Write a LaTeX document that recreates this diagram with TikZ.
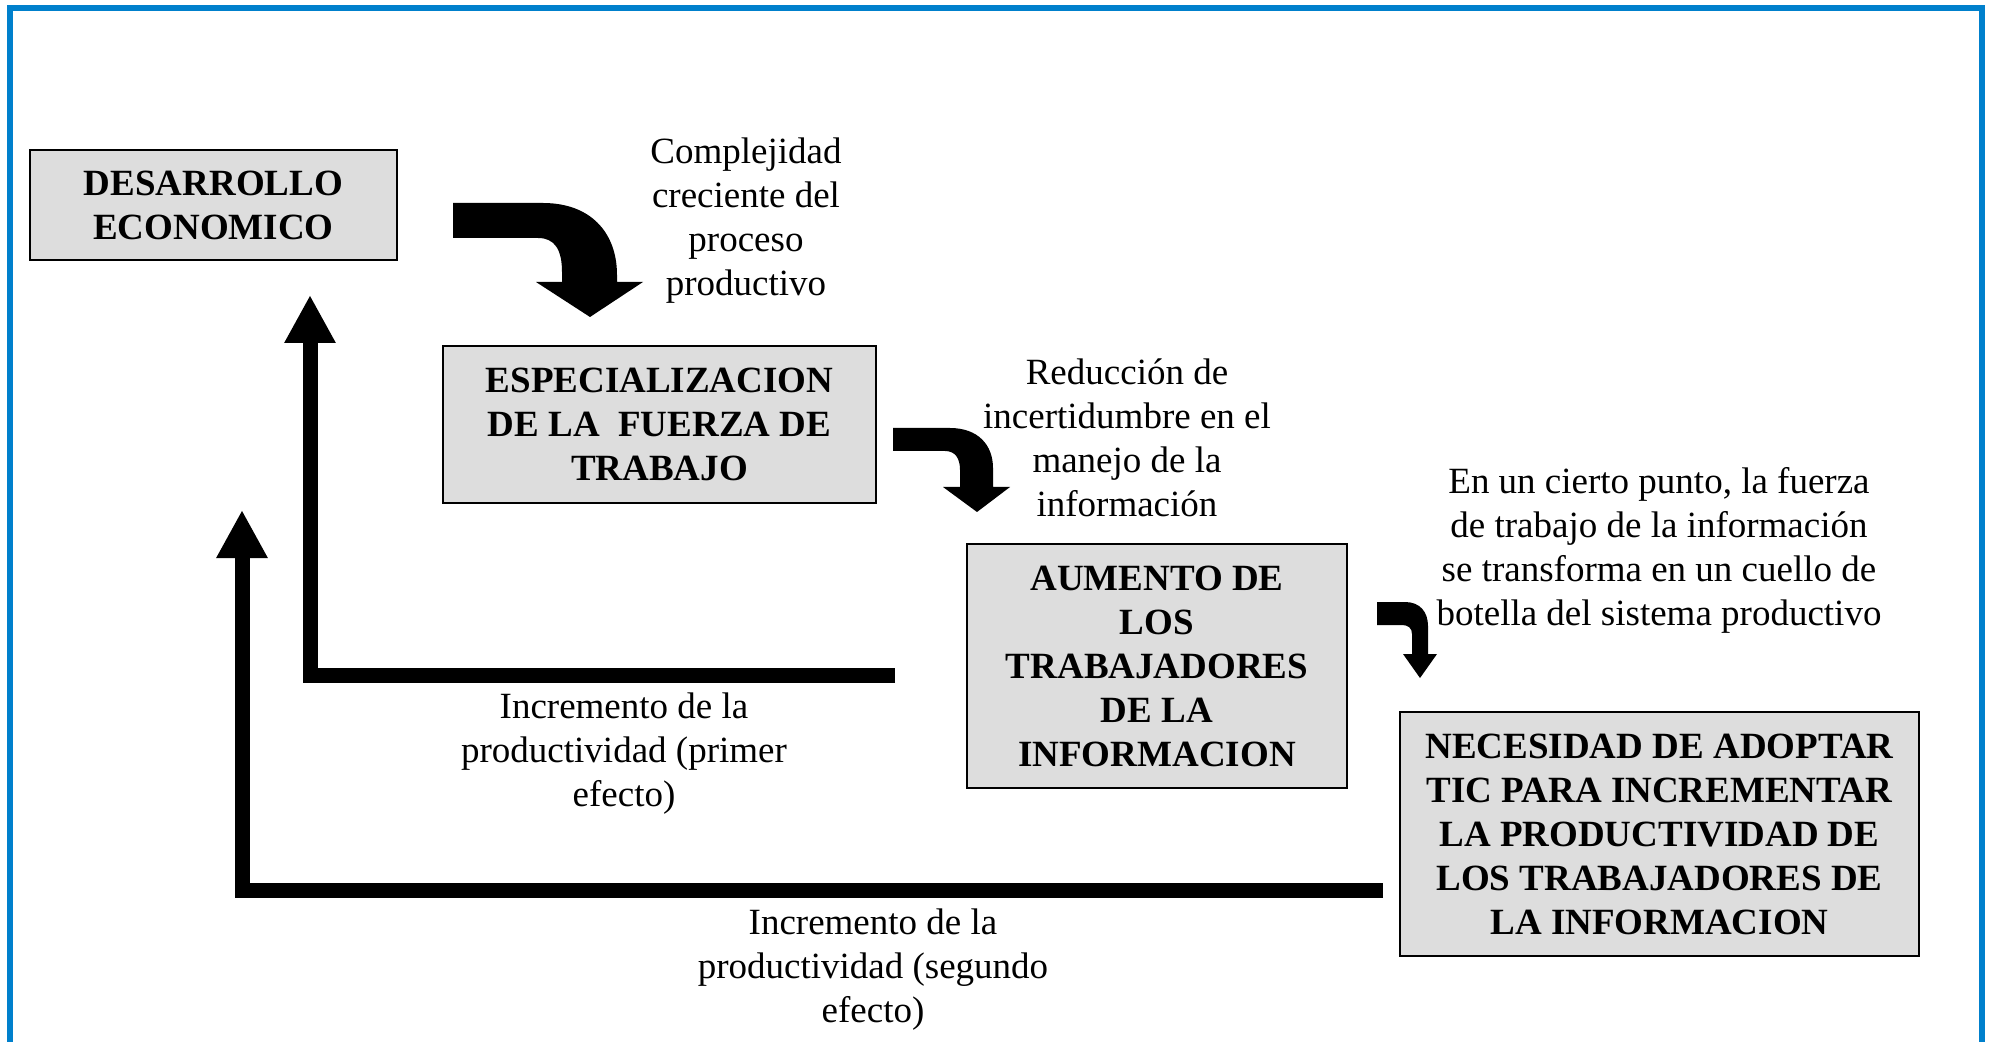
\documentclass[tikz,border=0pt]{standalone}
\usepackage{fontspec}
\setmainfont{Liberation Serif}
\usepackage{tikz}
\usetikzlibrary{arrows.meta, positioning}
\definecolor{frameblue}{RGB}{0,128,204}
\definecolor{boxgray}{RGB}{221,221,221}
\tikzstyle{block} = [rectangle, draw=black, line width=1pt, fill=boxgray, align=center, font=\fontsize{18.5}{22}\selectfont\bfseries]
\tikzstyle{note} = [align=center, font=\fontsize{18.5}{22}\selectfont]
\tikzstyle{feedback} = [line width=7.5pt, line join=miter, -{Triangle[width=24pt, length=24pt]}]
\tikzstyle{bendarrow} = [fill=black]

\begin{document}
\begin{tikzpicture}[x=0.5pt, y=-0.5pt]

    \useasboundingbox (0, 0) rectangle (1990, 1042);
    \draw [frameblue, line width=3pt] (10, 1042) -- (10, 8) -- (1982, 8) -- (1982, 1042);

    \node (desarrollo) [block, minimum width=183.5pt, minimum height=55pt] at (213.5, 205) {DESARROLLO\\ECONOMICO};
    \node (especial) [block, minimum width=216.5pt, minimum height=78.5pt] at (659.5, 424.5) {ESPECIALIZACION\\DE LA\ \ FUERZA DE\\TRABAJO};
    \node (aumento) [block, minimum width=190pt, minimum height=122pt] at (1157, 666) {AUMENTO DE\\LOS\\TRABAJADORES\\DE LA\\INFORMACION};
    \node (necesidad) [block, minimum width=259.5pt, minimum height=122pt] at (1659.5, 834) {NECESIDAD DE ADOPTAR\\TIC PARA INCREMENTAR\\LA PRODUCTIVIDAD DE\\LOS TRABAJADORES DE\\LA INFORMACION};

    \node (complejidad) [note] at (746, 221) {Complejidad\\creciente del\\proceso\\productivo};
    \node (reduccion) [note] at (1127, 438) {Reducción de\\incertidumbre en el\\manejo de la\\información};
    \node (cuello) [note] at (1659, 550.5) {En un cierto punto, la fuerza\\de trabajo de la información\\se transforma en un cuello de\\botella del sistema productivo};
    \node (primer) [note] at (624, 754) {Incremento de la\\productividad (primer\\efecto)};
    \node (segundo) [note] at (873, 970) {Incremento de la\\productividad (segundo\\efecto)};

    % curved arrows between the boxes
    \fill [bendarrow] (453, 203) -- (543, 203) .. controls (590, 203) and (617, 232) .. (617, 275)
        -- (617, 282) -- (643, 282) -- (590, 317) -- (536, 282) -- (562, 282) -- (562, 272)
        .. controls (562, 250) and (555, 238) .. (538, 238) -- (453, 238) -- cycle;
    \fill [bendarrow] (893, 428) -- (950, 428) .. controls (978, 428) and (993, 445) .. (993, 468)
        -- (993, 487) -- (1010, 487) -- (977, 512) -- (943, 487) -- (960, 487) -- (960, 470)
        .. controls (960, 458) and (955, 451) .. (945, 451) -- (893, 451) -- cycle;
    \fill [bendarrow] (1377, 602) -- (1405, 602) .. controls (1420, 602) and (1428, 612) .. (1428, 626)
        -- (1428, 654) -- (1437, 654) -- (1420, 678) -- (1403, 654) -- (1412, 654) -- (1412, 634)
        .. controls (1412, 628) and (1408, 625) .. (1402, 625) -- (1377, 625) -- cycle;

    % feedback loops
    \coordinate (start1) at (895, 675);
    \coordinate (tip1) at (310, 295);
    \coordinate (start2) at (1383, 890);
    \coordinate (tip2) at (242, 510);
    \draw [feedback] (start1) -| (tip1);
    \draw [feedback] (start2) -| (tip2);

\end{tikzpicture}
\end{document}
